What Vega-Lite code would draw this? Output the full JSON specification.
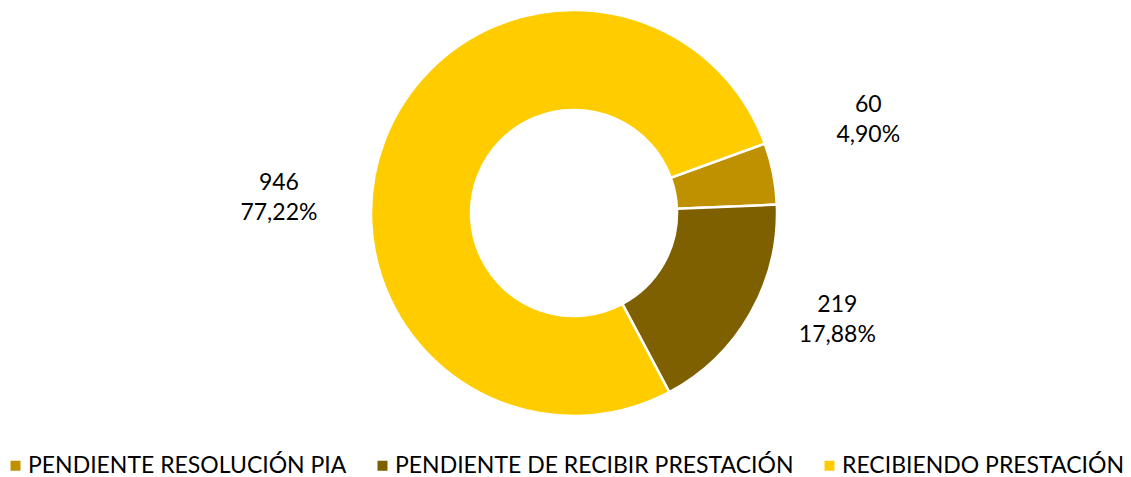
{
  "$schema": "https://vega.github.io/schema/vega-lite/v6.json",
  "autosize": "none",
  "width": 1148,
  "height": 426,
  "padding": {"left": 0, "top": 0, "right": 0, "bottom": 51},
  "background": "white",
  "config": {"view": {"stroke": null}, "font": "Lato"},
  "data": {
    "values": [
      {"cat": "PENDIENTE RESOLUCIÓN PIA", "value": 60, "label": "60\n4,90%", "orden": 1},
      {"cat": "PENDIENTE DE RECIBIR PRESTACIÓN", "value": 219, "label": "219\n17,88%", "orden": 2},
      {"cat": "RECIBIENDO PRESTACIÓN", "value": 946, "label": "946\n77,22%", "orden": 3}
    ]
  },
  "encoding": {
    "theta": {"field": "value", "type": "quantitative", "stack": true, "scale": {"range": [1.2217, 7.5049]}},
    "order": {"field": "orden", "type": "quantitative"}
  },
  "layer": [
    {
      "mark": {"type": "arc", "outerRadius": 203, "innerRadius": 103, "stroke": "white", "strokeWidth": 2.5},
      "encoding": {
        "color": {
          "field": "cat", "type": "nominal",
          "scale": {"domain": ["PENDIENTE RESOLUCIÓN PIA", "PENDIENTE DE RECIBIR PRESTACIÓN", "RECIBIENDO PRESTACIÓN"], "range": ["#BF9000", "#7F6000", "#FFCC00"]},
          "legend": {
            "title": null, "orient": "none", "direction": "horizontal", "legendX": 4, "legendY": 454,
            "symbolType": "square", "symbolSize": 100, "symbolStrokeWidth": 0, "labelFontSize": 23,
            "labelFont": "Lato", "labelColor": "#000000", "labelOffset": 1, "columnPadding": 24, "labelLimit": 600
          }
        }
      }
    },
    {
      "mark": {
        "type": "text", "radius": 300, "fontSize": 23, "font": "Lato", "color": "#000000",
        "lineBreak": "\n", "lineHeight": 30, "baseline": "middle", "align": "center",
        "dx": {"expr": "datum.orden == 3 ? -15 : (datum.orden == 2 ? 3 : 0)"},
        "dy": {"expr": "datum.orden == 3 ? 77 : (datum.orden == 2 ? -57 : -50)"}
      },
      "encoding": {"text": {"field": "label", "type": "nominal"}}
    }
  ]
}
